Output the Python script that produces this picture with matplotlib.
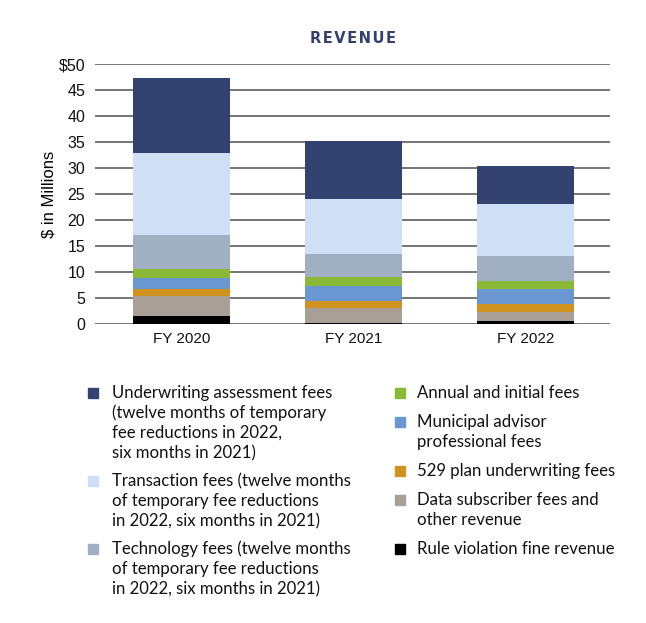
import matplotlib
matplotlib.use("Agg")
import matplotlib.pyplot as plt
from matplotlib.patches import Rectangle
from matplotlib.ticker import FuncFormatter
import numpy as np

# revenue by category, $ millions (bottom of stack first)
years = ["FY 2020", "FY 2021", "FY 2022"]
rule_fines = [1.5, 0.2, 0.6]
data_subscriber = [3.85, 2.9, 1.7]
plan_529 = [1.35, 1.35, 1.55]
muni_advisor = [2.1, 2.9, 2.9]
annual_initial = [1.75, 1.75, 1.55]
technology = [6.5, 4.4, 4.8]
transaction = [15.8, 10.6, 10.0]
underwriting = [14.4, 11.15, 7.3]

series = [
    (rule_fines, "#000000", "Rule violation fine revenue"),
    (data_subscriber, "#a8a096", "Data subscriber fees and\nother revenue"),
    (plan_529, "#d19320", "529 plan underwriting fees"),
    (muni_advisor, "#6a97d2", "Municipal advisor\nprofessional fees"),
    (annual_initial, "#8ab937", "Annual and initial fees"),
    (technology, "#a1afc2", "Technology fees (twelve months\nof temporary fee reductions\nin 2022, six months in 2021)"),
    (transaction, "#cfe0f6", "Transaction fees (twelve months\nof temporary fee reductions\nin 2022, six months in 2021)"),
    (underwriting, "#344271", "Underwriting assessment fees\n(twelve months of temporary\nfee reductions in 2022,\nsix months in 2021)"),
]

W, H = 646, 623
fig = plt.figure(figsize=(W / 100, H / 100), dpi=100)
ax = fig.add_axes([0.147, 0.480, 0.797, 0.417])

x = np.arange(len(years))
bottom = np.zeros(len(years))
for vals, color, label in series:
    ax.bar(x, vals, width=0.564, bottom=bottom, color=color, zorder=3)
    bottom += np.array(vals)

ax.set_ylim(0, 50)
ax.set_xlim(-0.503, 2.49)
ax.set_yticks(range(0, 51, 5))
ax.yaxis.set_major_formatter(FuncFormatter(lambda v, p: "$50" if v == 50 else f"{int(v)}"))
ax.grid(axis="y", color="#6a6a6a", linewidth=1.3, zorder=0)
for s in ax.spines.values():
    s.set_visible(False)
ax.tick_params(axis="both", length=0, labelsize=11.5, colors="#111111", pad=6)
ax.tick_params(axis="x", labelsize=11)
ax.tick_params(axis="y", pad=7)
ax.set_xticks(x)
ax.set_xticklabels(years, fontfamily="Liberation Sans")
for t in ax.get_yticklabels():
    t.set_fontfamily("Liberation Sans")
ax.set_ylabel("$ in Millions", fontsize=12, fontfamily="Liberation Sans")
ax.yaxis.set_label_coords(-0.074, 0.5)

fig.text(0.547, 0.938, "R\u200aE\u200aV\u200aE\u200aN\u200aU\u200aE", ha="center", va="center",
         fontsize=10.5, fontweight="bold", color="#34406e", fontfamily="DejaVu Sans")

# legend drawn by hand: square at the first line of each label
def legend_column(entries, sq_x, txt_x, y0, gap):
    y = y0
    for _, color, label in entries:
        fig.patches.append(Rectangle((sq_x / W, 1 - (y + 5) / H), 10 / W, 10 / H,
                                     transform=fig.transFigure, color=color))
        for i, line in enumerate(label.split("\n")):
            fig.text(txt_x / W, 1 - (y + 20 * i) / H, line, ha="left", va="center",
                     fontsize=12.1, fontfamily="Lato", color="#111111")
        y += 20 * len(label.split("\n")) + gap

legend_column(series[5:][::-1], 88, 112, 393, 8)
legend_column(series[:5][::-1], 395, 417, 393, 9)

fig.savefig("out.png", dpi=100)
